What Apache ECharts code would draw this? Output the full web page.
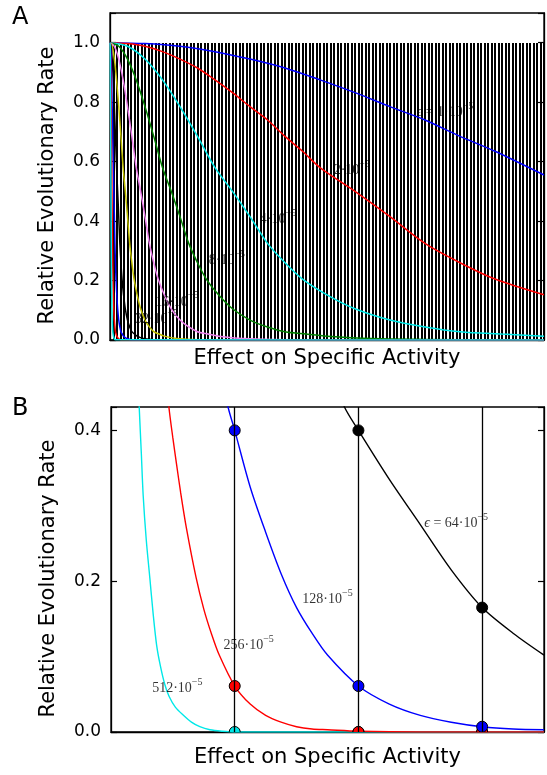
<!DOCTYPE html>
<html><head><meta charset="utf-8">
<script src="https://cdn.jsdelivr.net/npm/echarts@6/dist/echarts.min.js"></script>
<style>html,body{margin:0;padding:0;background:#fff}#c{width:547px;height:775px}</style>
</head><body><div id="c"></div>
<script>
// ---------------- DATA ----------------
// Panel A: epsilon values (x 10^-5)
const epsA = [1, 2, 4, 8, 16, 32, 64, 128, 256, 512];
// Panel A curves: [effect, relative rate]
const curveA1 = [[0,1],[10,0.997],[20,0.988],[30,0.97],[40,0.945],[50,0.915],[60,0.875],[70,0.832],[80,0.785],[90,0.74],[100,0.685],[110,0.635],[124,0.555]];
const curveA2 = [[0,1],[5,0.997],[10,0.988],[15,0.97],[20,0.945],[25,0.915],[30,0.875],[35,0.832],[40,0.785],[45,0.74],[50,0.685],[55,0.635],[60,0.58],[70,0.50],[80,0.415],[90,0.325],[100,0.26],[110,0.205],[124,0.152]];
const curveA4 = [[0,1],[5,0.988],[10,0.945],[15,0.875],[20,0.785],[25,0.685],[30,0.58],[35,0.50],[40,0.415],[45,0.325],[50,0.26],[55,0.205],[62,0.152],[70,0.105],[80,0.067],[90,0.044],[100,0.028],[112,0.02],[124,0.013]];
const curveA8 = [[0,1],[2.5,0.988],[5,0.945],[7.5,0.875],[10,0.785],[12.5,0.685],[15,0.58],[17.5,0.50],[20,0.415],[22.5,0.325],[25,0.26],[27.5,0.205],[31,0.152],[35,0.105],[40,0.067],[45,0.044],[50,0.028],[56,0.02],[62,0.013],[75,0.005],[90,0.002],[110,0],[124,0]];
const curveA16 = [[0,1],[1.25,0.988],[2.5,0.945],[3.75,0.875],[5,0.785],[6.25,0.685],[7.5,0.58],[8.75,0.50],[10,0.415],[11.25,0.325],[12.5,0.26],[13.75,0.205],[15.5,0.152],[17.5,0.105],[20,0.067],[22.5,0.044],[25,0.028],[28,0.02],[31,0.013],[38,0.005],[50,0.001],[124,0]];
const curveA32 = [[0,1],[0.625,0.988],[1.25,0.945],[1.875,0.875],[2.5,0.785],[3.125,0.685],[3.75,0.58],[4.375,0.50],[5,0.415],[5.625,0.325],[6.25,0.26],[6.875,0.205],[7.75,0.152],[8.75,0.105],[10,0.067],[11.25,0.044],[12.5,0.028],[14,0.02],[15.5,0.013],[19,0.005],[25,0.001],[124,0]];
const curveA64 = [[0,1],[0.3125,0.988],[0.625,0.945],[0.9375,0.875],[1.25,0.785],[1.5625,0.685],[1.875,0.58],[2.1875,0.5],[2.5,0.415],[2.8125,0.325],[3.125,0.26],[3.4375,0.205],[3.875,0.152],[4.375,0.105],[5,0.067],[5.625,0.044],[6.25,0.028],[7,0.02],[7.75,0.013],[9.5,0.005],[12.5,0.001],[124,0]];
const curveA128 = [[0,1],[0.156,0.988],[0.3125,0.945],[0.469,0.875],[0.625,0.785],[0.781,0.685],[0.9375,0.58],[1.094,0.5],[1.25,0.415],[1.406,0.325],[1.5625,0.26],[1.719,0.205],[1.94,0.152],[2.19,0.105],[2.5,0.067],[2.81,0.044],[3.125,0.028],[3.5,0.02],[3.875,0.013],[4.75,0.005],[6.25,0.001],[124,0]];
const curveA256 = [[0,1],[0.078,0.988],[0.156,0.945],[0.234,0.875],[0.3125,0.785],[0.39,0.685],[0.469,0.58],[0.547,0.5],[0.625,0.415],[0.703,0.325],[0.781,0.26],[0.86,0.205],[0.97,0.152],[1.09,0.105],[1.25,0.067],[1.41,0.044],[1.5625,0.028],[1.75,0.02],[1.94,0.013],[2.4,0.005],[3.1,0.001],[124,0]];
const curveA512 = [[0,1],[0.039,0.988],[0.078,0.945],[0.117,0.875],[0.156,0.785],[0.195,0.685],[0.234,0.58],[0.273,0.5],[0.3125,0.415],[0.352,0.325],[0.39,0.26],[0.43,0.205],[0.485,0.152],[0.547,0.105],[0.625,0.067],[0.70,0.044],[0.78,0.028],[0.875,0.02],[0.97,0.013],[1.2,0.005],[1.55,0.001],[124,0]];
// Panel A vertical hatch lines (positions on the effect axis) and their height
const hatchX = [0,1,2,3,4,5,6,7,8,9,10,11,12,13,14,15,16,17,18,19,20,21,22,23,24,25,26,27,28,29,30,31,32,33,34,35,36,37,38,39,40,41,42,43,44,45,46,47,48,49,50,51,52,53,54,55,56,57,58,59,60,61,62,63,64,65,66,67,68,69,70,71,72,73,74,75,76,77,78,79,80,81,82,83,84,85,86,87,88,89,90,91,92,93,94,95,96,97,98,99,100,101,102,103,104,105,106,107,108,109,110,111,112,113,114,115,116,117,118,119,120,121,122,123,124];
const hatchTop = 1.0;
const yTicksA = [0, 0.2, 0.4, 0.6, 0.8, 1.0];

// Panel B
const epsB = [512, 256, 128, 64];
const curveB512 = [[0.22,0.47],[0.228,0.431],[0.245,0.37],[0.26,0.314],[0.285,0.255],[0.314,0.204],[0.34,0.158],[0.369,0.115],[0.40,0.087],[0.435,0.063],[0.47,0.047],[0.52,0.033],[0.583,0.0225],[0.65,0.013],[0.718,0.007],[0.8,0.003],[0.9,0.001],[1.0,0],[3.5,0]];
const curveB256 = [[0.45,0.47],[0.468,0.431],[0.5,0.39],[0.53,0.355],[0.5625,0.318],[0.61,0.27],[0.6875,0.205],[0.75,0.163],[0.8125,0.13],[0.875,0.102],[1.0,0.061],[1.125,0.037],[1.25,0.022],[1.375,0.013],[1.5,0.007],[1.625,0.004],[1.75,0.003],[2.0,0.001],[2.5,0],[3.5,0]];
const curveB128 = [[0.9,0.47],[0.946,0.431],[1.0,0.40],[1.125,0.325],[1.25,0.265],[1.375,0.21],[1.5,0.165],[1.625,0.131],[1.75,0.102],[2.0,0.061],[2.25,0.037],[2.5,0.022],[2.75,0.013],[3.0,0.007],[3.25,0.004],[3.5,0.003]];
const curveB64 = [[1.8,0.47],[1.887,0.431],[2.0,0.40],[2.25,0.335],[2.5,0.275],[2.75,0.215],[3.0,0.165],[3.25,0.131],[3.5,0.102]];
const dotsB512 = [[1,0],[2,0],[3,0]];
const dotsB256 = [[1,0.061],[2,0],[3,0]];
const dotsB128 = [[1,0.40],[2,0.061],[3,0.007]];
const dotsB64 = [[2,0.40],[3,0.165]];
const vlinesB = [1, 2, 3];
const yTicksB = [0, 0.2, 0.4];

// ---------------- STYLE ----------------
const colorsA = ['#0000ff','#ff0000','#00e8e8','#008000','#ee82ee','#bfbf00','#000000','#0000ff','#ff0000','#00e8e8'];
const colorsB = {512:'#00e8e8', 256:'#ff0000', 128:'#0000ff', 64:'#000000'};
const curvesA = [curveA1,curveA2,curveA4,curveA8,curveA16,curveA32,curveA64,curveA128,curveA256,curveA512];
const curvesB = {512:curveB512, 256:curveB256, 128:curveB128, 64:curveB64};
const dotsB = {512:dotsB512, 256:dotsB256, 128:dotsB128, 64:dotsB64};

const sans = '"DejaVu Sans", sans-serif';
const serif = '"Liberation Serif", "DejaVu Serif", serif';
const rich = {
  n: {fontFamily: serif, fontSize: 14, color: '#000', lineHeight: 18, verticalAlign: 'bottom'},
  e: {fontFamily: serif, fontSize: 14, fontStyle: 'italic', color: '#000', lineHeight: 18, verticalAlign: 'bottom'},
  s: {fontFamily: serif, fontSize: 10, color: '#000', lineHeight: 12, verticalAlign: 'top'}
};
function lbl(prefixEps, mant) {
  return (prefixEps ? '{e|ϵ}{n| = }' : '') + '{n|' + mant + '·10}{s|−5}';
}
function tickFmt(ticks) {
  return function (v) {
    for (const t of ticks) if (Math.abs(v - t) < 1e-9) return t.toFixed(1);
    return '';
  };
}
const yName = 'Relative Evolutionary Rate';
const xName = 'Effect on Specific Activity';

function yAxisPair(gi, max, ticks) {
  const common = {
    type: 'value', gridIndex: gi, min: 0, max: max, interval: 0.2,
    splitLine: {show: false},
    axisLine: {show: true, lineStyle: {color: '#000', width: 1.3}},
    axisTick: {show: true, inside: true, length: 6, lineStyle: {color: '#000', width: 1.2}}
  };
  return [
    Object.assign({}, common, {
      position: 'left',
      name: yName, nameLocation: 'middle', nameGap: 52, nameRotate: 90,
      nameTextStyle: {fontFamily: sans, fontSize: 21, color: '#000', padding: [0, 18, 0, 0]},
      axisLabel: {show: true, margin: 10, fontFamily: sans, fontSize: 17, color: '#000', formatter: tickFmt(ticks)}
    }),
    Object.assign({}, common, {position: 'right', axisLabel: {show: false}})
  ];
}
function xAxisOf(gi, max, gap) {
  return {
    type: 'value', gridIndex: gi, min: 0, max: max,
    axisLabel: {show: false}, axisTick: {show: false}, splitLine: {show: false},
    axisLine: {show: true, onZero: false, lineStyle: {color: '#000', width: 1.3}},
    name: xName, nameLocation: 'middle', nameGap: gap,
    nameTextStyle: {fontFamily: sans, fontSize: 21, color: '#000', verticalAlign: 'top'}
  };
}

const series = [];
// hatch: crisp 2px vertical lines from 0 up to hatchTop
series.push({
  type: 'custom', xAxisIndex: 0, yAxisIndex: 0, z: 1, silent: true, clip: true,
  data: hatchX.map(x => [x, hatchTop]),
  renderItem: function (params, api) {
    const top = api.coord([api.value(0), api.value(1)]);
    const bot = api.coord([api.value(0), 0]);
    const x = Math.round(top[0] - 1);
    const y = Math.round(top[1]);
    return {type: 'rect', shape: {x: x, y: y, width: 2, height: Math.round(bot[1]) - y},
      style: {fill: '#000'}};
  }
});
curvesA.forEach((c, i) => {
  series.push({
    type: 'line', xAxisIndex: 0, yAxisIndex: 0, data: c, smooth: 0.3,
    showSymbol: false, z: 3, clip: true,
    lineStyle: {color: colorsA[i], width: 1.5}
  });
});
// annotations A
const annA = [
  {value: [95.7, 0.771], label: {formatter: lbl(true, '1')}},
  {value: [69.1, 0.576], label: {formatter: lbl(false, '2')}},
  {value: [48.0, 0.414], label: {formatter: lbl(false, '4')}},
  {value: [33.4, 0.276], label: {formatter: lbl(false, '8')}},
  {value: [19.1, 0.135], label: {formatter: lbl(false, '16')}},
  {value: [13.3, 0.075], label: {formatter: lbl(false, '32')}}
];
series.push({
  type: 'scatter', xAxisIndex: 0, yAxisIndex: 0, symbolSize: 0, z: 5, silent: true,
  label: {show: true, position: 'inside', rich: rich, align: 'center', verticalAlign: 'middle'},
  data: annA
});

// Panel B
epsB.forEach((e, k) => {
  const s = {
    type: 'line', xAxisIndex: 1, yAxisIndex: 2, data: curvesB[e], smooth: 0.3,
    showSymbol: false, z: 3, clip: true,
    lineStyle: {color: colorsB[e], width: 1.4}
  };
  if (k === 0) {
    s.markLine = {
      silent: true, symbol: 'none', label: {show: false},
      lineStyle: {color: '#000', width: 1.3, type: 'solid'},
      data: vlinesB.map(v => ({xAxis: v}))
    };
  }
  series.push(s);
});
epsB.forEach(e => {
  series.push({
    type: 'custom', xAxisIndex: 1, yAxisIndex: 2, z: 4, clip: true,
    data: dotsB[e],
    renderItem: function (params, api) {
      const p = api.coord([api.value(0), api.value(1)]);
      return {type: 'circle', shape: {cx: p[0], cy: p[1], r: 5.5},
        style: {fill: colorsB[e], stroke: '#000', lineWidth: 1}};
    }
  });
});
const annB = [
  {value: [2.79, 0.279], label: {formatter: lbl(true, '64')}},
  {value: [1.75, 0.179], label: {formatter: lbl(false, '128')}},
  {value: [1.113, 0.118], label: {formatter: lbl(false, '256')}},
  {value: [0.536, 0.060], label: {formatter: lbl(false, '512')}}
];
series.push({
  type: 'scatter', xAxisIndex: 1, yAxisIndex: 2, symbolSize: 0, z: 5, silent: true,
  label: {show: true, position: 'inside', rich: rich, align: 'center', verticalAlign: 'middle'},
  data: annB
});

const option = {
  animation: false,
  backgroundColor: '#fff',
  grid: [
    {left: 110, top: 13, width: 434, height: 327, show: true, borderColor: '#000', borderWidth: 1.3, backgroundColor: 'transparent'},
    {left: 111, top: 407, width: 433, height: 325, show: true, borderColor: '#000', borderWidth: 1.3, backgroundColor: 'transparent'}
  ],
  xAxis: [xAxisOf(0, 124, 8), xAxisOf(1, 3.5, 15)],
  yAxis: yAxisPair(0, 1.1, yTicksA).concat(yAxisPair(1, 0.431, yTicksB)),
  graphic: [
    {type: 'text', left: 12, top: 6, style: {text: 'A', font: '24px "DejaVu Sans"', fill: '#000'}},
    {type: 'text', left: 12, top: 397, style: {text: 'B', font: '24px "DejaVu Sans"', fill: '#000'}}
  ],
  series: series
};
const chart = echarts.init(document.getElementById('c'), null, {renderer: 'canvas'});
chart.setOption(option);
</script></body></html>
